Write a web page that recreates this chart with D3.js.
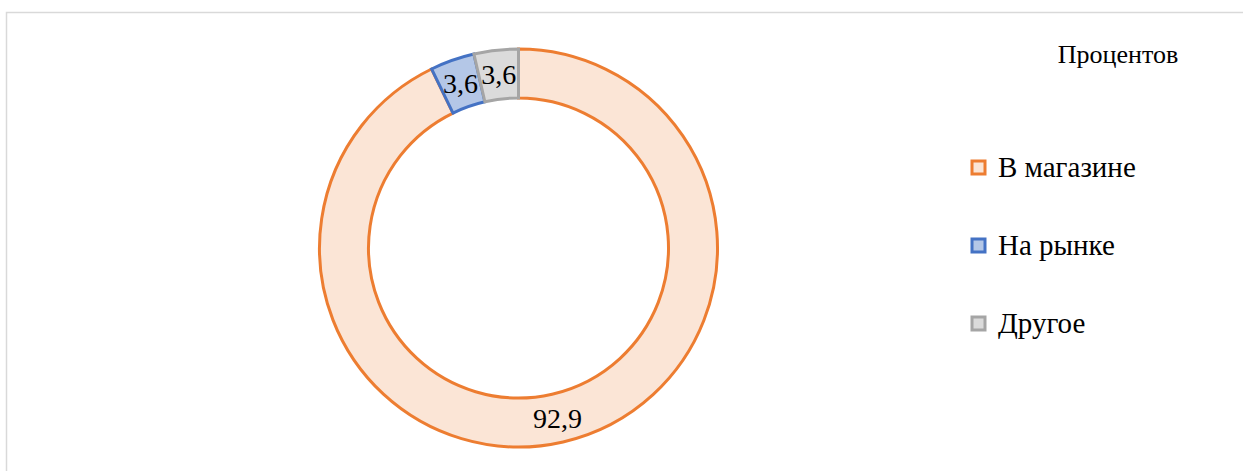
<!DOCTYPE html>
<html><head><meta charset="utf-8">
<script src="https://cdn.jsdelivr.net/npm/d3@7"></script>
<style>body{margin:0;background:#fff;} svg{display:block;} text{font-family:'Liberation Serif','DejaVu Serif',serif;}</style>
</head><body>
<svg id="c" width="1243" height="471"></svg>
<script>
const categories = ["В магазине", "На рынке", "Другое"];
const values = [92.9, 3.6, 3.6];
const labels = ["92,9", "3,6", "3,6"];
const strokeColors = ["#ED7D31", "#4472C4", "#A5A5A5"];
const fillColors = ["#FBE5D6", "#B4C7E7", "#DBDBDB"];
const title = "Процентов";

const svg = d3.select("#c");
svg.append("rect").attr("x",6.5).attr("y",12.5).attr("width",1260).attr("height",480)
  .attr("fill","none").attr("stroke","#d9d9d9").attr("stroke-width",1.5);

const cx = 518.5, cy = 248, R = 199, r = 150;
const pie = d3.pie().sort(null).value(d=>d)(values);
const arc = d3.arc().innerRadius(r).outerRadius(R);
const g = svg.append("g").attr("transform",`translate(${cx},${cy})`);
g.selectAll("path").data(pie).join("path")
  .attr("d",arc)
  .attr("fill",(d,i)=>fillColors[i])
  .attr("stroke",(d,i)=>strokeColors[i])
  .attr("stroke-width",3)
  .attr("stroke-linejoin","miter");
g.selectAll("text").data(pie).join("text")
  .attr("transform",d=>`translate(${arc.centroid(d)})`)
  .attr("text-anchor","middle").attr("dy","0.35em")
  .attr("font-size",28).attr("fill","#000")
  .text((d,i)=>labels[i]);

svg.append("text").attr("x",1118).attr("y",63).attr("text-anchor","middle")
  .attr("font-size",26)
  .text(title);

const ly = d3.scalePoint().domain(categories).range([167,323]);
const lg = svg.append("g").selectAll("g").data(categories).join("g")
  .attr("transform",d=>`translate(972,${ly(d)})`);
lg.append("rect").attr("x",0).attr("y",-6).attr("width",13).attr("height",13)
  .attr("fill",(d,i)=>fillColors[i]).attr("stroke",(d,i)=>strokeColors[i]).attr("stroke-width",3);
lg.append("text").attr("x",26).attr("y",0).attr("dy","0.35em")
  .attr("font-size",29)
  .text(d=>d);
</script>
</body></html>
